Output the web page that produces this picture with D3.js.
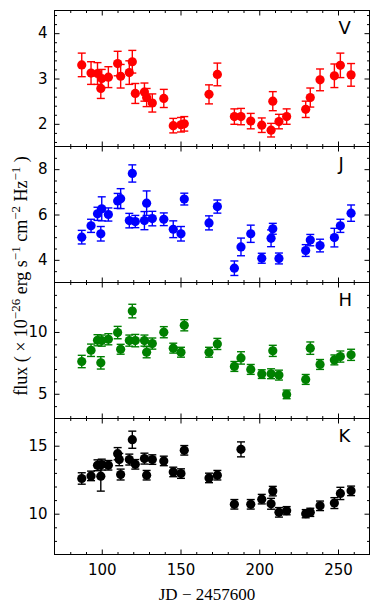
<!DOCTYPE html>
<html><head><meta charset="utf-8">
<script src="https://cdn.jsdelivr.net/npm/d3@7"></script>
<style>body{margin:0;background:#fff}</style>
</head><body><svg id="c" width="380" height="614"></svg>
<script>
// Epochs (JD - 2457600)
const jd = [87.3, 93.2, 97.3, 99.4, 100.0, 104.2, 110.1, 111.1, 112.0, 117.5, 119.4, 121.3, 127.1, 128.5, 132.1, 139.4, 145.4, 150.3, 152.4,
            168.1, 173.4, 184.2, 188.4, 194.6, 201.6, 207.5, 208.6, 212.5, 217.4, 229.5, 232.4, 238.6, 247.7, 251.5, 258.3];

const vFlux = [3.30, 3.12, 3.11, 2.78, 3.00, 3.03, 3.33, null, 3.05, 3.13, 3.37, 2.67, 2.70, 2.58, 2.46, 2.56, 1.96, 1.98, 2.00,
               2.65, 3.09, 2.16, 2.16, 2.06, 1.97, 1.86, 2.50, 2.05, 2.16, 2.32, 2.58, 2.97, 3.06, 3.29, 3.08];
const vErr  = [0.26, 0.25, 0.24, 0.22, 0.20, 0.23, 0.27, null, 0.26, 0.26, 0.25, 0.22, 0.20, 0.20, 0.20, 0.20, 0.16, 0.16, 0.16,
               0.21, 0.25, 0.17, 0.18, 0.17, 0.16, 0.15, 0.21, 0.16, 0.17, 0.18, 0.21, 0.24, 0.26, 0.27, 0.25];

const jFlux = [5.00, 5.50, 6.03, 5.15, 6.25, 6.00, 6.60, null, 6.70, 5.73, 7.81, 5.69, 5.73, 6.50, 5.82, 5.79, 5.35, 5.15, 6.68,
               5.63, 6.35, 3.63, 4.57, 5.15, 4.07, 4.95, 5.37, 4.06, null, 4.41, 4.87, 4.63, 4.98, 5.50, 6.06];
const jErr  = [0.30, 0.29, 0.29, 0.32, 0.53, 0.29, 0.33, null, 0.44, 0.32, 0.38, 0.27, 0.40, 0.54, 0.32, 0.28, 0.37, 0.32, 0.26,
               0.31, 0.29, 0.32, 0.39, 0.38, 0.22, 0.37, 0.24, 0.24, null, 0.26, 0.25, 0.28, 0.41, 0.29, 0.36];

const hFlux = [7.61, 8.52, 9.33, 7.50, 9.30, 9.41, 9.95, null, 8.60, 9.30, 11.69, 9.30, 9.30, 8.36, 9.06, 9.98, 8.69, 8.36, 10.54,
               8.36, 9.03, 7.21, 7.90, 6.97, 6.59, 6.62, 8.47, 6.51, 4.95, 6.16, 8.69, 7.37, 7.74, 8.01, 8.15];
const hErr  = [0.50, 0.50, 0.45, 0.50, 0.45, 0.45, 0.50, null, 0.40, 0.45, 0.55, 0.50, 0.45, 0.45, 0.45, 0.45, 0.40, 0.40, 0.45,
               0.40, 0.45, 0.40, 0.50, 0.40, 0.35, 0.40, 0.45, 0.40, 0.35, 0.40, 0.50, 0.40, 0.40, 0.45, 0.45];

const kFlux = [12.59, 12.78, 13.56, 12.76, 13.61, 13.56, 14.41, 13.98, 12.88, 13.98, 15.44, 13.63, 14.05, 12.83, 13.98, 13.88, 13.07, 12.95, 14.66,
               12.63, 12.83, 10.69, 14.73, 10.69, 11.07, 10.73, 11.66, 10.10, 10.22, 10.00, 10.10, 10.58, 10.78, 11.49, 11.68];
const kErr  = [0.42, 0.35, 0.40, 1.10, 0.40, 0.35, 0.45, 0.45, 0.40, 0.40, 0.63, 0.35, 0.40, 0.35, 0.35, 0.35, 0.35, 0.35, 0.35,
               0.35, 0.35, 0.35, 0.55, 0.35, 0.35, 0.40, 0.35, 0.35, 0.30, 0.30, 0.30, 0.35, 0.40, 0.45, 0.35];

const bandNames = ["V", "J", "H", "K"];
const bandColors = ["#ff0000", "#0000ff", "#008000", "#000000"];
const yDomains = [[1.5, 4.5], [3, 9], [3, 14], [7, 17]];
const yMajor = [[2, 3, 4], [4, 6, 8], [5, 10], [10, 15]];
const yMinorStep = [0.2, 0.5, 1, 1];
const xMajor = [100, 150, 200, 250];
const xMinor = [80, 90, 110, 120, 130, 140, 160, 170, 180, 190, 210, 220, 230, 240, 260];

const fluxes = [vFlux, jFlux, hFlux, kFlux];
const errs = [vErr, jErr, hErr, kErr];

const svg = d3.select("#c");
const L = 54.5, R = 369.5, top0 = 10.5, ph = 136;
const x = d3.scaleLinear().domain([70, 270]).range([L, R]);
const tickFont = "'DejaVu Sans', sans-serif";

bandNames.forEach((name, i) => {
  const t = top0 + i * ph, b = t + ph;
  const y = d3.scaleLinear().domain(yDomains[i]).range([b, t]);
  const g = svg.append("g");
  const [d0, d1] = yDomains[i];
  const minors = d3.range(Math.ceil(d0 / yMinorStep[i]) * yMinorStep[i], d1 + 1e-9, yMinorStep[i])
    .map(v => +v.toFixed(4)).filter(v => !yMajor[i].some(m => Math.abs(m - v) < 1e-6) && v > d0 + 1e-6 && v < d1 - 1e-6);

  function styleAxis(sel) {
    sel.select(".domain").remove();
    sel.selectAll("line").attr("stroke", "#000").attr("stroke-width", 1);
    sel.selectAll("text").attr("font-family", tickFont).attr("font-size", 15).attr("fill", "#000");
  }
  // left
  g.append("g").attr("transform", `translate(${L},0)`)
    .call(d3.axisLeft(y).tickValues(yMajor[i]).tickSize(-5).tickPadding(7).tickFormat(d3.format("d"))).call(styleAxis);
  g.append("g").attr("transform", `translate(${L},0)`)
    .call(d3.axisLeft(y).tickValues(minors).tickSize(-2.5).tickFormat("")).call(styleAxis);
  // right
  g.append("g").attr("transform", `translate(${R},0)`)
    .call(d3.axisRight(y).tickValues(yMajor[i]).tickSize(-5).tickFormat("")).call(styleAxis);
  g.append("g").attr("transform", `translate(${R},0)`)
    .call(d3.axisRight(y).tickValues(minors).tickSize(-2.5).tickFormat("")).call(styleAxis);
  // top
  g.append("g").attr("transform", `translate(0,${t})`)
    .call(d3.axisTop(x).tickValues(xMajor).tickSize(-5).tickFormat("")).call(styleAxis);
  g.append("g").attr("transform", `translate(0,${t})`)
    .call(d3.axisTop(x).tickValues(xMinor).tickSize(-2.5).tickFormat("")).call(styleAxis);
  // bottom
  g.append("g").attr("transform", `translate(0,${b})`)
    .call(d3.axisBottom(x).tickValues(xMajor).tickSize(-5).tickPadding(10)
      .tickFormat(i === 3 ? d3.format("d") : "")).call(styleAxis);
  g.append("g").attr("transform", `translate(0,${b})`)
    .call(d3.axisBottom(x).tickValues(xMinor).tickSize(-2.5).tickFormat("")).call(styleAxis);

  const pts = jd.map((d, k) => ({x: d, v: fluxes[i][k], e: errs[i][k]})).filter(p => p.v != null);
  const col = bandColors[i];
  const eb = g.append("g").attr("stroke", col).attr("stroke-width", 1.4).attr("fill", "none");
  pts.forEach(p => {
    const cx = x(p.x), y1 = y(p.v - p.e), y2 = y(p.v + p.e);
    eb.append("line").attr("x1", cx).attr("x2", cx).attr("y1", y1).attr("y2", y2);
    eb.append("line").attr("x1", cx - 4).attr("x2", cx + 4).attr("y1", y1).attr("y2", y1);
    eb.append("line").attr("x1", cx - 4).attr("x2", cx + 4).attr("y1", y2).attr("y2", y2);
  });
  g.append("g").selectAll("circle").data(pts).join("circle")
    .attr("cx", p => x(p.x)).attr("cy", p => y(p.v)).attr("r", 4.6).attr("fill", col);

  g.append("rect").attr("x", L).attr("y", t).attr("width", R - L).attr("height", ph)
    .attr("fill", "none").attr("stroke", "#000").attr("stroke-width", 1);

  g.append("text").attr("x", 338.5).attr("y", t + 23).attr("font-family", tickFont)
    .attr("font-size", 18).attr("fill", "#000").text(name);
});

// x label
svg.append("text").attr("x", 207).attr("y", 600).attr("text-anchor", "middle")
  .attr("font-family", "'Liberation Serif', 'DejaVu Serif', serif").attr("font-size", 17)
  .text("JD \u2212 2457600");

// y label
const yl = svg.append("text").attr("transform", "translate(27,276) rotate(-90)")
  .attr("text-anchor", "middle")
  .attr("font-family", "'Liberation Serif', 'DejaVu Serif', serif").attr("font-size", 18);
const parts = [["flux ( \u00d7 10", 0], ["\u221226", 1], [" erg s", 0], ["\u22121", 1], [" cm", 0], ["\u22122", 1], [" Hz", 0], ["\u22121", 1], [" )", 0]];
let prevSup = 0;
parts.forEach(([s, sup]) => {
  const shift = sup === prevSup ? 0 : (sup ? -7.5 : 7.5);
  yl.append("tspan").attr("dy", shift).attr("font-size", sup ? 13 : 18).text(s);
  prevSup = sup;
});
</script></body></html>
